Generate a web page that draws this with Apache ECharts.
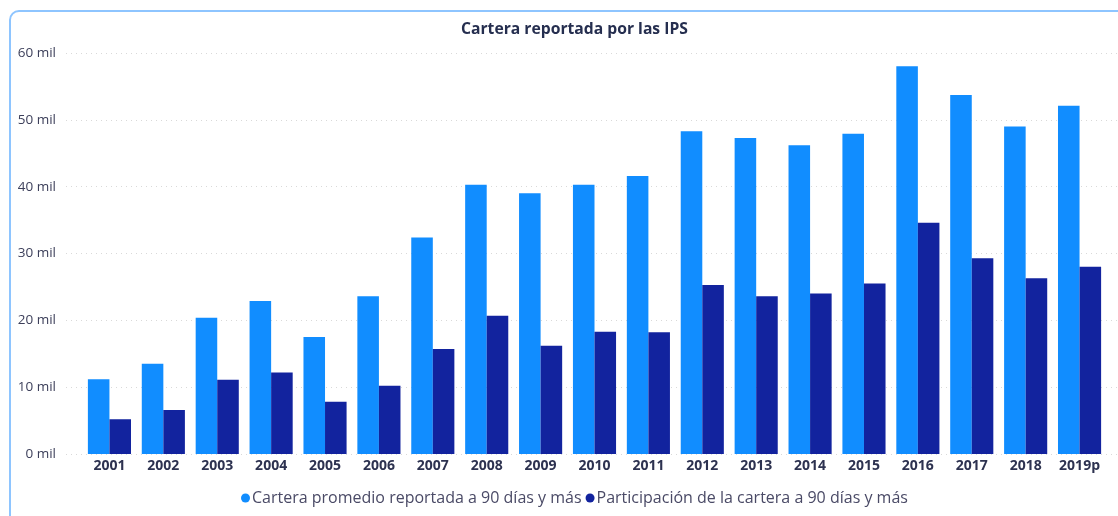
<!DOCTYPE html>
<html>
<head>
<meta charset="utf-8">
<script src="https://cdn.jsdelivr.net/npm/echarts@6/dist/echarts.min.js"></script>
<style>
html,body{margin:0;padding:0;background:#fff;overflow:hidden;}
#frame{position:absolute;left:9px;top:10px;width:1130px;height:520px;border:2px solid #8ec5ff;border-radius:10px;box-sizing:border-box;}
#chart{position:absolute;left:0;top:0;width:1118px;height:516px;}
</style>
</head>
<body>
<div id="frame"></div>
<div id="chart"></div>
<script>
const years = ['2001','2002','2003','2004','2005','2006','2007','2008','2009','2010','2011','2012','2013','2014','2015','2016','2017','2018','2019p'];
const carteraPromedio = [11200,13500,20400,22900,17500,23600,32400,40300,39000,40300,41600,48300,47300,46200,47900,58000,53700,49000,52100];
const participacion = [5200,6600,11100,12200,7800,10200,15700,20700,16200,18300,18200,25300,23600,24000,25500,34600,29300,26300,28000];
const yTicks = [0,10000,20000,30000,40000,50000,60000];
const seriesNames = ['Cartera promedio reportada a 90 días y más','Participación de la cartera a 90 días y más'];

const font = "'Segoe UI','Open Sans','Noto Sans',sans-serif";
const chart = echarts.init(document.getElementById('chart'), null, {renderer:'canvas'});
const yMin = yTicks[0], yMax = yTicks[yTicks.length-1], yStep = yTicks[1]-yTicks[0];
chart.setOption({
  animation:false,
  title:{text:'Cartera reportada por las IPS',left:456,top:17,
    textStyle:{fontFamily:font,fontSize:15.7,fontWeight:'bold',color:'#252e4f'}},
  legend:{top:485,left:236,icon:'circle',itemWidth:9,itemHeight:9,itemGap:4,
    textStyle:{fontFamily:font,fontSize:16,color:'#4a4a66',padding:[0,0,0,-3]},data:seriesNames},
  grid:[
    {left:66,right:0,top:53,height:401,containLabel:false},
    {left:82.5,right:11.5,top:53,height:401,containLabel:false}
  ],
  xAxis:[
    {gridIndex:0,type:'value',show:false,min:0,max:1},
    {gridIndex:1,type:'category',data:years,
      axisLine:{show:false},axisTick:{show:false},
      axisLabel:{fontFamily:font,fontSize:14,fontWeight:'bold',color:'#2d3250',margin:5}}
  ],
  yAxis:[
    {gridIndex:0,type:'value',min:yMin,max:yMax,interval:yStep,
      axisLine:{show:false},axisTick:{show:false},
      axisLabel:{fontFamily:font,fontSize:13.5,color:'#3c3f5a',margin:10,
        formatter:v=>(v/1000)+' mil'},
      splitLine:{show:true,lineStyle:{color:'#d9d9d9',type:[1,4],width:1}}},
    {gridIndex:1,type:'value',min:yMin,max:yMax,interval:yStep,show:false,splitLine:{show:false}}
  ],
  series:[
    {name:seriesNames[0],type:'bar',xAxisIndex:1,yAxisIndex:1,data:carteraPromedio,
      barGap:'0%',barCategoryGap:'20%',itemStyle:{color:'#118DFF'}},
    {name:seriesNames[1],type:'bar',xAxisIndex:1,yAxisIndex:1,data:participacion,
      barGap:'0%',barCategoryGap:'20%',itemStyle:{color:'#12239E'}}
  ]
});
</script>
</body>
</html>
